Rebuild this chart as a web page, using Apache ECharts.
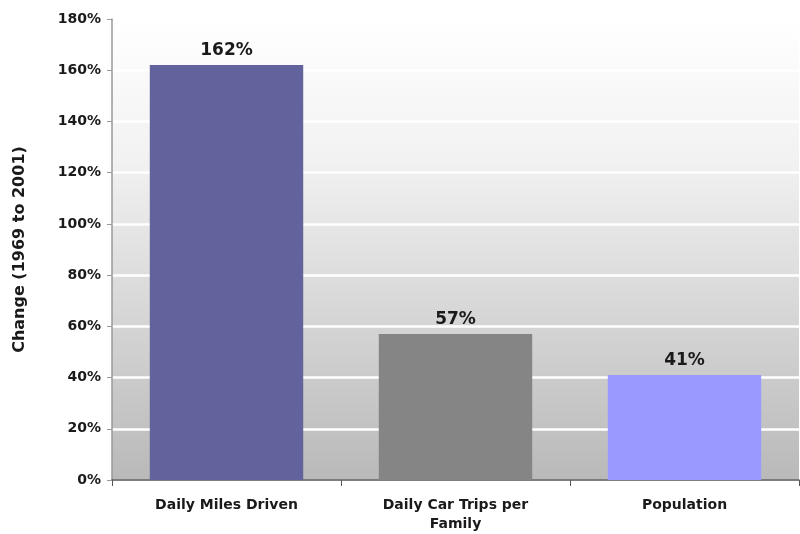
<!DOCTYPE html>
<html><head><meta charset="utf-8">
<script src="https://cdn.jsdelivr.net/npm/echarts@6/dist/echarts.min.js"></script>
<style>html,body{margin:0;padding:0;background:#fff}#c{width:800px;height:534px}</style>
</head><body><div id="c"></div>
<script>
const categories = ['Daily Miles Driven', 'Daily Car Trips per\nFamily', 'Population'];
const values = [162, 57, 41];
const barColors = ['#62639c', '#858585', '#9999ff'];
const yTicks = [0, 20, 40, 60, 80, 100, 120, 140, 160, 180];

const chart = echarts.init(document.getElementById('c'), null, {renderer: 'canvas'});
const font = 'DejaVu Sans';
chart.setOption({
  animation: false,
  grid: {left: 112, right: 1, top: 19, bottom: 52, show: true, borderWidth: 0,
    backgroundColor: {type: 'linear', x: 0, y: 0, x2: 0, y2: 1, colorStops: [
      {offset: 0, color: '#ffffff'}, {offset: 0.3, color: '#f2f2f2'}, {offset: 1, color: '#b9b9b9'}]}},
  xAxis: {
    type: 'category', data: categories,
    axisLine: {lineStyle: {color: '#555', width: 1.5}},
    axisTick: {show: true, length: 6, lineStyle: {color: '#555'}},
    axisLabel: {fontFamily: font, fontWeight: 'bold', fontSize: 14, color: '#1a1a1a', margin: 16, lineHeight: 19}
  },
  yAxis: {
    type: 'value', min: 0, max: 180, interval: 20,
    name: 'Change (1969 to 2001)', nameLocation: 'middle', nameGap: 84,
    nameTextStyle: {fontFamily: font, fontWeight: 'bold', fontSize: 16, color: '#1a1a1a'},
    axisLine: {show: true, lineStyle: {color: '#999', width: 1.5}},
    axisTick: {show: true, length: 5, lineStyle: {color: '#999'}},
    axisLabel: {fontFamily: font, fontWeight: 'bold', fontSize: 14, color: '#1a1a1a', margin: 11,
      formatter: v => yTicks.includes(v) ? v + '%' : ''},
    splitLine: {show: true, lineStyle: {color: '#ffffff', width: 2.5}}
  },
  series: [{
    type: 'bar', barWidth: '67%',
    data: values.map((v, i) => ({value: v, itemStyle: {color: barColors[i]}})),
    label: {show: true, position: 'top', distance: 6, formatter: '{c}%',
      fontFamily: font, fontWeight: 'bold', fontSize: 17, color: '#1a1a1a'}
  }]
});
</script></body></html>
